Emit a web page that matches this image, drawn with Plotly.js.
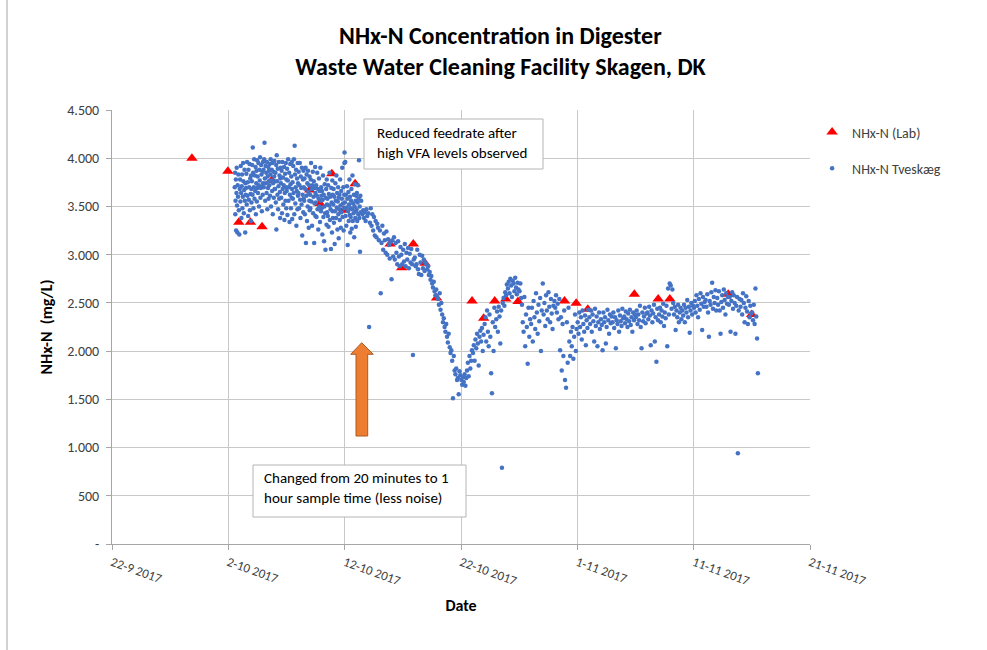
<!DOCTYPE html>
<html>
<head>
<meta charset="utf-8">
<script src="https://cdn.plot.ly/plotly-3.0.1.min.js"></script>
<style>html,body{margin:0;padding:0;background:#fff;}#chart{width:987px;height:650px;}</style>
</head>
<body>
<div id="chart"></div>
<script>
// Days after 22-9-2017 00:00
var startDate = Date.UTC(2017, 8, 22);

// Lab samples
var labDay = [6.87, 9.96, 10.9, 11.9, 12.9, 13.73, 17.0, 17.87, 18.9, 19.9, 20.9, 23.9, 24.9, 25.9, 26.9, 27.9, 30.95, 31.95, 32.9, 33.85, 34.9, 38.9, 39.9, 40.9, 44.9, 46.95, 47.95, 52.97, 54.98];
var labVal = [4000, 3865, 3335, 3335, 3290, 3770, 3670, 3530, 3840, 3460, 3735, 3110, 2865, 3110, 2910, 2550, 2520, 2340, 2520, 2540, 2515, 2520, 2495, 2435, 2590, 2540, 2540, 2590, 2380];

// Online sensor, 20 minute sampling
var tvesDay20min = [
10.55,10.58,10.60,10.62,10.65,10.67,10.70,10.72,10.75,10.78,10.80,10.83,10.86,10.90,10.94,10.98,
11.01,11.04,11.07,11.10,11.12,11.15,11.18,11.21,11.24,11.27,11.30,11.33,11.36,11.39,11.42,11.45,11.47,11.49,
11.52,11.55,11.58,11.61,11.64,11.67,11.70,11.73,11.76,11.79,11.82,11.85,11.88,11.91,11.94,11.96,11.98,11.99,
12.02,12.05,12.08,12.10,12.13,12.16,12.19,12.22,12.25,12.28,12.31,12.34,12.37,12.40,12.43,12.45,12.47,12.49,
12.52,12.55,12.58,12.61,12.64,12.67,12.70,12.73,12.76,12.79,12.82,12.85,12.88,12.91,12.94,12.96,12.98,12.99,
13.02,13.05,13.08,13.11,13.14,13.17,13.20,13.23,13.26,13.29,13.32,13.35,13.38,13.41,13.44,13.46,13.48,13.49,
13.52,13.55,13.58,13.61,13.64,13.67,13.70,13.73,13.76,13.79,13.82,13.85,13.88,13.91,13.94,13.96,13.98,13.99,
14.02,14.05,14.08,14.11,14.13,14.16,14.19,14.22,14.25,14.28,14.31,14.34,14.37,14.40,14.43,14.45,14.47,14.49,
14.52,14.55,14.58,14.61,14.64,14.67,14.70,14.73,14.76,14.79,14.82,14.85,14.88,14.91,14.94,14.96,14.98,14.99,
15.02,15.05,15.08,15.11,15.14,15.17,15.20,15.23,15.26,15.29,15.32,15.35,15.38,15.41,15.44,15.46,15.48,15.49,
15.52,15.55,15.58,15.61,15.64,15.67,15.70,15.73,15.76,15.79,15.82,15.85,15.88,15.91,15.94,15.96,15.98,15.99,
16.02,16.05,16.08,16.11,16.14,16.17,16.20,16.23,16.26,16.29,16.32,16.35,16.38,16.41,16.44,16.46,16.48,16.49,
16.52,16.55,16.58,16.61,16.64,16.67,16.70,16.73,16.76,16.79,16.82,16.85,16.88,16.91,16.94,16.96,16.98,16.99,
17.02,17.05,17.08,17.11,17.14,17.17,17.20,17.23,17.26,17.29,17.32,17.35,17.38,17.41,17.44,17.46,17.48,17.49,
17.52,17.55,17.58,17.61,17.64,17.67,17.70,17.73,17.76,17.79,17.82,17.85,17.88,17.91,17.94,17.96,17.98,17.99,
18.02,18.05,18.08,18.11,18.14,18.17,18.20,18.23,18.26,18.29,18.32,18.35,18.38,18.41,18.44,18.46,18.48,18.49,
18.52,18.55,18.58,18.61,18.64,18.67,18.70,18.73,18.76,18.79,18.82,18.85,18.88,18.91,18.94,18.96,18.98,18.99,
19.02,19.05,19.08,19.11,19.14,19.17,19.20,19.23,19.26,19.29,19.32,19.35,19.38,19.41,19.44,19.46,19.48,19.49,
19.52,19.55,19.58,19.61,19.64,19.67,19.70,19.73,19.76,19.79,19.82,19.85,19.88,19.91,19.94,19.96,19.98,19.99,
20.02,20.05,20.08,20.11,20.14,20.17,20.20,20.23,20.26,20.29,20.32,20.35,20.38,20.41,20.44,20.46,20.48,20.49,
20.52,20.55,20.58,20.61,20.64,20.67,20.70,20.73,20.76,20.79,20.82,20.85,20.88,20.91,20.94,20.96,20.98,20.99,
21.02,21.05,21.08,21.11,21.14,21.17,21.20,21.23,21.26,21.29,21.32,21.35,21.38,21.42];
var tvesVal20min = [
3700,3850,3420,3560,3780,3250,3640,3900,3510,3230,3720,3600,3830,3460,3210,3680,
3780,3550,3920,3640,3380,3710,3830,3480,3600,3950,3760,3430,3670,3880,3560,3230,3740,3620,
3690,3840,3520,3960,3610,3750,3400,3880,3570,3700,3940,3460,3790,3630,3350,3820,3680,3540,
3760,3930,3620,4110,3850,3480,3700,3990,3580,3820,3660,3910,3420,3740,3870,3550,3980,3690,
3810,3640,3950,3720,3500,3880,3770,4010,3590,3690,3930,3830,3450,3710,3860,3620,3960,3740,
3880,3700,3990,4160,3790,3560,3920,3740,3850,3640,3960,3470,3810,3690,3910,3580,3760,3870,
3720,3940,3610,3830,3990,3500,3770,3880,3660,3950,3420,3740,3860,3590,3810,3970,3680,3760,
3680,3850,3540,3930,3260,4030,3760,3620,3890,3470,3710,3960,3580,3820,3650,3380,3790,3900,
3740,3590,3870,3430,3960,3680,3800,3520,3720,3910,3360,3640,3840,3560,3950,3700,3480,3780,
3660,3890,3410,3770,3990,3560,3700,3850,3340,3620,3940,3730,3480,3810,3590,3960,3680,3370,
3750,3580,3920,3640,3990,3420,4130,3830,3530,3700,3880,3300,3660,3790,3470,3950,3610,3740,
3640,3860,3480,3720,3950,3570,3380,3810,3690,3520,3900,3200,3620,3780,3440,3870,3580,3700,
3560,3790,3420,3680,3900,3120,3610,3830,3350,3740,3500,3870,3650,3280,3720,3560,3810,3460,
3620,3480,3780,3950,3550,3680,3300,3720,3860,3430,3600,3760,3120,3530,3690,3910,3400,3640,
3540,3720,3390,3610,3850,3470,3680,3260,3580,3790,3500,3660,3340,3900,3560,3450,3700,3610,
3480,3660,3210,3570,3820,3390,3620,3140,3500,3730,3430,3050,3590,3680,3310,3780,3520,3440,
3580,3400,3720,3290,3630,3510,3850,3360,3600,3470,3060,3690,3540,3230,3770,3450,3620,3380,
3520,3680,3330,3600,3110,3450,3740,3560,3380,3820,3490,3640,3260,3550,3700,3420,3590,3170,
3470,3620,3360,3780,3510,3280,3660,3440,3580,3900,3390,3530,3700,3250,3480,3620,3950,4060,
3540,3960,3400,3620,3300,3490,3710,3580,3100,3450,3650,3350,3520,3780,3410,3600,3230,3480,
3390,3560,3680,3270,3470,3820,3350,3530,3430,3620,3180,3500,3730,3380,3560,3290,3450,3610,
3470,3640,3350,3540,3720,3420,3580,3980,3380,3500,3030,3610,3440,3560];

// Online sensor, 1 hour sampling
var tvesDayHourly = [
21.52,21.59,21.66,21.73,21.80,21.87,21.94,
22.03,22.10,22.17,22.24,22.31,22.38,22.45,22.52,22.59,22.66,22.73,22.80,22.87,22.94,
23.03,23.10,23.17,23.24,23.31,23.38,23.45,23.52,23.59,23.66,23.73,23.80,23.87,23.94,
24.03,24.10,24.17,24.24,24.31,24.38,24.45,24.52,24.59,24.66,24.73,24.80,24.87,24.94,
25.03,25.10,25.17,25.24,25.31,25.38,25.45,25.52,25.59,25.66,25.73,25.80,25.87,25.94,
26.03,26.10,26.17,26.24,26.31,26.38,26.45,26.52,26.59,26.66,26.73,26.80,26.87,26.94,
27.03,27.10,27.17,27.24,27.31,27.38,27.45,27.52,27.59,27.66,27.73,27.80,27.87,27.94,
28.03,28.10,28.17,28.24,28.31,28.38,28.45,28.52,28.59,28.66,28.73,28.80,28.87,28.94,
29.03,29.10,29.17,29.24,29.31,29.38,29.45,29.52,29.59,29.66,29.73,29.80,29.87,29.94,
30.03,30.10,30.17,30.24,30.31,30.38,30.45,30.52,30.59,30.66,30.73,30.80,30.87,30.94,
31.03,31.10,31.17,31.24,31.31,31.38,31.45,31.52,31.59,31.66,31.73,31.80,31.87,31.94,
32.03,32.10,32.17,32.24,32.31,32.38,32.45,32.52,32.59,32.66,32.73,32.80,32.87,32.94,
33.03,33.10,33.17,33.24,33.31,33.38,33.45,33.52,33.59,33.66,33.73,33.80,33.87,33.94,
34.03,34.10,34.17,34.24,34.31,34.38,34.45,34.52,34.59,34.66,34.73,34.80,34.87,34.94,
35.03,35.10,35.17,35.24,35.31,35.38,35.45,35.52,35.59,35.66,35.73,35.80,35.87,35.94,
36.03,36.10,36.17,36.24,36.31,36.38,36.45,36.52,36.59,36.66,36.73,36.80,36.87,36.94,
37.03,37.10,37.17,37.24,37.31,37.38,37.45,37.52,37.59,37.66,37.73,37.80,37.87,37.94,
38.03,38.10,38.17,38.24,38.31,38.38,38.45,38.52,38.59,38.66,38.73,38.80,38.87,38.94,
39.03,39.10,39.17,39.24,39.31,39.38,39.45,39.52,39.59,39.66,39.73,39.80,39.87,39.94,
40.03,40.10,40.17,40.24,40.31,40.38,40.45,40.52,40.59,40.66,40.73,40.80,40.87,40.94,
41.03,41.10,41.17,41.24,41.31,41.38,41.45,41.52,41.59,41.66,41.73,41.80,41.87,41.94,
42.03,42.10,42.17,42.24,42.31,42.38,42.45,42.52,42.59,42.66,42.73,42.80,42.87,42.94,
43.03,43.10,43.17,43.24,43.31,43.38,43.45,43.52,43.59,43.66,43.73,43.80,43.87,43.94,
44.03,44.10,44.17,44.24,44.31,44.38,44.45,44.52,44.59,44.66,44.73,44.80,44.87,44.94,
45.03,45.10,45.17,45.24,45.31,45.38,45.45,45.52,45.59,45.66,45.73,45.80,45.87,45.94,
46.03,46.10,46.17,46.24,46.31,46.38,46.45,46.52,46.59,46.66,46.73,46.80,46.87,46.94,
47.03,47.10,47.17,47.24,47.31,47.38,47.45,47.52,47.59,47.66,47.73,47.80,47.87,47.94,
48.03,48.10,48.17,48.24,48.31,48.38,48.45,48.52,48.59,48.66,48.73,48.80,48.87,48.94,
49.03,49.10,49.17,49.24,49.31,49.38,49.45,49.52,49.59,49.66,49.73,49.80,49.87,49.94,
50.03,50.10,50.17,50.24,50.31,50.38,50.45,50.52,50.59,50.66,50.73,50.80,50.87,50.94,
51.03,51.10,51.17,51.24,51.31,51.38,51.45,51.52,51.59,51.66,51.73,51.80,51.87,51.94,
52.03,52.10,52.17,52.24,52.31,52.38,52.45,52.52,52.59,52.66,52.73,52.80,52.87,52.94,
53.03,53.10,53.17,53.24,53.31,53.38,53.45,53.52,53.59,53.66,53.73,53.80,53.87,53.94,
54.03,54.10,54.17,54.24,54.31,54.38,54.45,54.52,54.59,54.66,54.73,54.80,54.87,54.94,
55.03,55.10,55.17,55.24,55.31,55.38,55.45,55.52];
var tvesValHourly = [
3420,3460,3380,3440,3350,3470,3400,
3430,2250,3330,3480,3300,3420,3250,3390,3200,3350,3180,3320,3280,3150,
3250,2600,3120,3300,3050,3220,3150,3020,3240,3000,3160,3100,2960,3130,
2745,3150,2980,3180,2950,3120,3020,2900,3140,2980,2880,3080,3000,2900,
3050,2930,3110,2880,3020,2950,3070,2860,3010,2920,3060,2900,1960,2950,
2970,2880,2900,3050,2850,2800,3000,2920,2790,2990,2860,2950,2830,2920,
2900,2850,2880,2790,2820,2740,2780,2700,2660,2720,2620,2580,2640,2560,
2540,2480,2600,2430,2500,2380,2300,2340,2250,2200,2280,2150,2090,2180,
2040,1980,2010,1900,1510,1950,1800,1760,1820,1700,1720,1553,1790,1750,
1700,1650,1730,1680,1760,1640,1720,1800,1880,1740,1950,1820,1900,2010,
1980,2060,1900,2120,2030,2180,2080,1850,2150,2210,2100,2240,2000,2170,
2280,2350,2100,2420,2200,2050,2380,2150,1770,1563,2300,2000,2450,2250,
2330,2410,2200,2460,2360,2080,2420,790,2500,2550,2470,2610,2580,2690,
2650,2720,2600,2750,2680,2560,2730,2700,2620,2760,2660,2590,2710,2640,
2620,2700,2550,2480,2300,2200,2560,2050,2380,2250,1870,2450,2150,2330,
2280,2450,2100,2520,2350,2230,2600,2400,2180,2480,2310,2550,2000,2420,
2700,2380,2500,2260,2580,2420,2330,2610,2460,2300,2540,2390,2230,2470,
2520,2450,2580,2400,2490,2330,2540,2010,2350,1800,2280,1950,2420,1700,
1620,2300,1880,2450,2100,1950,2200,2050,2250,1920,2150,2380,2000,2230,
2300,2180,2400,2250,2350,2120,2420,2280,2200,2370,2060,2320,2240,2430,
2350,2280,2420,2200,2380,2310,2100,2440,2260,2360,2050,2300,2400,2230,
2330,2270,2010,2400,2300,2350,2080,2250,2430,2320,2180,2380,2290,2360,
2300,2400,2240,2350,2030,2320,2280,2420,2200,2370,2310,2260,2440,2340,
2360,2290,2410,2330,2250,2390,2310,2430,2270,2350,2200,2400,2320,2380,
2350,2420,2280,2380,2320,2470,2250,2030,2400,2310,2360,2450,2290,2390,
2400,2330,2460,2370,2060,2420,2300,2390,2480,2100,2350,1890,2440,2320,
2380,2450,2300,2420,2360,2490,2260,2400,2340,2470,2050,2650,2380,2700,
2680,2440,2640,2500,2380,2460,2220,2420,2350,2480,2300,2400,2450,2330,
2420,2370,2480,2300,2450,2400,2530,2350,2460,2190,2420,2500,2380,2470,
2450,2520,2400,2580,2470,2350,2540,2430,2600,2490,2220,2560,2460,2510,
2530,2460,2590,2400,2150,2520,2480,2610,2710,2440,2560,2500,2630,2420,
2550,2480,2620,2420,2180,2510,2580,2450,2640,2530,2380,2600,2490,2560,
2480,2560,2200,2520,2610,2440,2580,2500,2180,2470,2560,940,2420,2540,
2460,2530,2380,2600,2500,2300,2450,2570,2410,2280,2520,2350,2470,2390,
2400,2320,2480,2280,2650,2360,2130,1770];

var yTickVals = [0, 500, 1000, 1500, 2000, 2500, 3000, 3500, 4000, 4500];
var yTickText = ['-', '500', '1.000', '1.500', '2.000', '2.500', '3.000', '3.500', '4.000', '4.500'];

var seriesNames = ['NHx-N (Lab)', 'NHx-N Tveskæg'];
var titleLines = ['NHx-N Concentration in Digester', 'Waste Water Cleaning Facility Skagen, DK'];
var noteFeed = ['Reduced feedrate after', 'high VFA levels observed'];
var noteSample = ['Changed from 20 minutes to 1', 'hour sample time (less noise)'];

function toTime(days) { return days.map(function (d) { return startDate + d * 86400000; }); }

var FONT = 'Carlito, Lato, "Liberation Sans", sans-serif';

var traces = [
  {
    type: 'scatter', mode: 'markers', name: seriesNames[0], legendgroup: 'a',
    x: toTime(labDay), y: labVal,
    marker: { symbol: 'triangle-up', size: 10, color: '#FF0000' }
  },
  {
    type: 'scatter', mode: 'markers', name: seriesNames[1], legendgroup: 'b',
    x: toTime(tvesDay20min.concat(tvesDayHourly)), y: tvesVal20min.concat(tvesValHourly),
    marker: { symbol: 'circle', size: 4.5, color: '#4472C4' }
  }
];

function px(v) { return (v - 112) / 698; }
function py(v) { return (544 - v) / 434; }

var layout = {
  width: 987, height: 650,
  paper_bgcolor: '#ffffff', plot_bgcolor: '#ffffff',
  font: { family: FONT, size: 13, color: '#404040' },
  margin: { l: 112, r: 177, t: 110, b: 106, pad: 0 },
  title: {
    text: titleLines.join('<br>'),
    font: { family: FONT, size: 24, color: '#000000', weight: 'bold' },
    xref: 'container', x: 0.507, xanchor: 'center',
    yref: 'container', y: 0.932, yanchor: 'top'
  },
  showlegend: true,
  legend: {
    x: 1.003, y: 0.985, xanchor: 'left', yanchor: 'top',
    font: { family: FONT, size: 14, color: '#404040' },
    tracegroupgap: 15, traceorder: 'grouped', itemwidth: 30,
    bgcolor: 'rgba(0,0,0,0)'
  },
  xaxis: {
    type: 'date',
    range: [startDate, startDate + 60 * 86400000],
    tick0: startDate, dtick: 864000000,
    tickformat: '%-d-%-m %Y', tickangle: 20,
    tickfont: { family: FONT, size: 13, color: '#404040' },
    showgrid: true, gridcolor: '#c8c8c8', gridwidth: 1,
    showline: true, linecolor: '#a6a6a6', linewidth: 1,
    ticks: 'outside', ticklen: 5, tickcolor: '#a6a6a6',
    zeroline: false,
    title: { text: 'Date', font: { family: FONT, size: 16, color: '#000000', weight: 'bold' }, standoff: 12 }
  },
  yaxis: {
    range: [0, 4500],
    tickvals: yTickVals, ticktext: yTickText,
    tickfont: { family: FONT, size: 14, color: '#404040' },
    ticklabelstandoff: 4,
    showgrid: true, gridcolor: '#c8c8c8', gridwidth: 1,
    showline: true, linecolor: '#a6a6a6', linewidth: 1,
    ticks: 'outside', ticklen: 5, tickcolor: '#a6a6a6',
    zeroline: false,
    title: { text: 'NHx-N\u00a0 (mg/L)', font: { family: FONT, size: 16, color: '#000000', weight: 'bold' }, standoff: 10 }
  },
  shapes: [
    { type: 'line', xref: 'paper', yref: 'paper', x0: px(7), x1: px(7), y0: py(0), y1: py(650),
      line: { color: '#a6a6a6', width: 1 } },
    { type: 'rect', xref: 'paper', yref: 'paper', layer: 'above',
      x0: px(364), x1: px(543), y0: py(169), y1: py(119),
      fillcolor: '#ffffff', line: { color: '#b4b4b4', width: 1 } },
    { type: 'rect', xref: 'paper', yref: 'paper', layer: 'above',
      x0: px(253), x1: px(466), y0: py(517), y1: py(465),
      fillcolor: '#ffffff', line: { color: '#b4b4b4', width: 1 } },
    { type: 'path', xref: 'paper', yref: 'paper', layer: 'above',
      path: 'M' + px(356) + ',' + py(436) + ' L' + px(367.7) + ',' + py(436) + ' L' + px(367.7) + ',' + py(354.3) +
            ' L' + px(373.3) + ',' + py(354.3) + ' L' + px(361.7) + ',' + py(342.7) + ' L' + px(350.7) + ',' + py(354.3) +
            ' L' + px(356) + ',' + py(354.3) + ' Z',
      fillcolor: '#ED7D31', line: { color: '#AE5A21', width: 1 } }
  ],
  annotations: [
    { xref: 'paper', yref: 'paper', x: px(375), y: py(142.5), xanchor: 'left', yanchor: 'middle', align: 'left',
      showarrow: false, text: noteFeed.join('<br>'), font: { family: FONT, size: 15, color: '#000000' } },
    { xref: 'paper', yref: 'paper', x: px(262), y: py(487.5), xanchor: 'left', yanchor: 'middle', align: 'left',
      showarrow: false, text: noteSample.join('<br>'), font: { family: FONT, size: 15, color: '#000000' } }
  ]
};

Plotly.newPlot('chart', traces, layout, { displayModeBar: false, staticPlot: true });
</script>
</body>
</html>
